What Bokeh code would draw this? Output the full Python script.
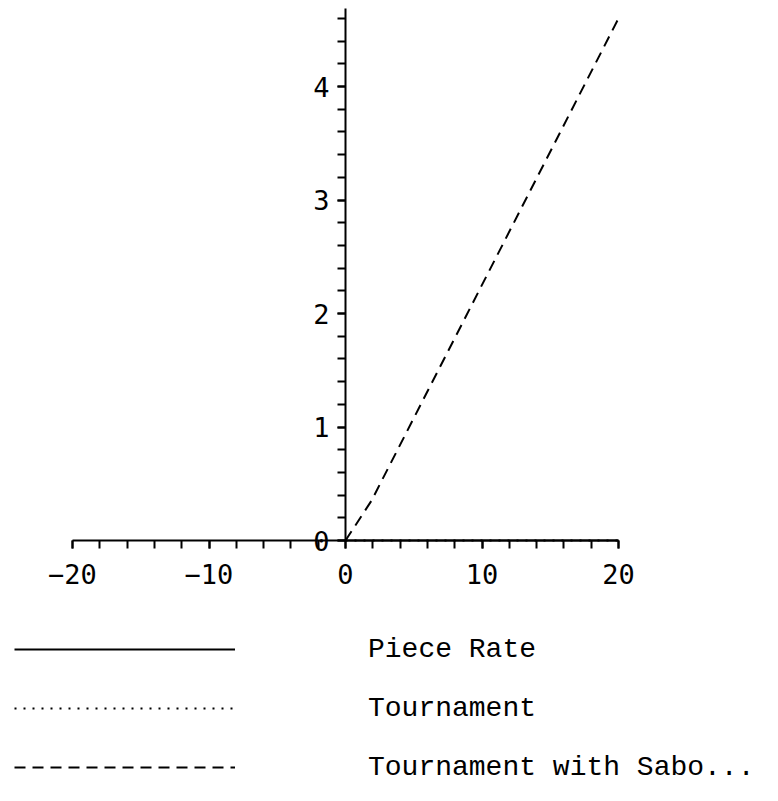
from bokeh.plotting import figure
from bokeh.models import LinearAxis, FixedTicker, Range1d, Legend, LegendItem
from bokeh.embed import file_html
from bokeh.resources import INLINE

# data
sabo_x = [0, 1.9, 20]
sabo_y = [0, 0.35, 4.6]
piece_x, piece_y = [0, 20], [0, 0]
tourn_x, tourn_y = [0, 20], [0, 0]
labels = ["Piece Rate", "Tournament", "Tournament with Sabo..."]
x_major = [-20, -10, 0, 10, 20]
x_minor = list(range(-20, 21, 2))
y_major = [0, 1, 2, 3, 4]
y_minor = [round(0.2 * i, 1) for i in range(0, 24)]

W, H = 762, 785
sx = 546 / 40.0
sy = 113.5
x_start = -20 - 72 / sx
x_end = 20 + (W - 618) / sx
y_end = 540 / sy
y_start = -(H - 540) / sy
y_top = 532 / sy

p = figure(width=W, height=H, output_backend="svg", toolbar_location=None,
           x_axis_location=None, y_axis_location=None,
           x_range=Range1d(x_start, x_end), y_range=Range1d(y_start, y_end),
           min_border=0, outline_line_color=None)
p.grid.visible = False
p.background_fill_color = "white"

tick_font = "DejaVu Sans Mono"
xa = LinearAxis(ticker=FixedTicker(ticks=x_major, minor_ticks=x_minor), fixed_location=0,
                bounds=(-20, 20))
ya = LinearAxis(ticker=FixedTicker(ticks=y_major, minor_ticks=y_minor), fixed_location=0,
                bounds=(0, y_top))
for ax in (xa, ya):
    ax.axis_line_width = 2
    ax.axis_line_color = "black"
    ax.major_tick_line_width = 2
    ax.minor_tick_line_width = 2
    ax.major_tick_in = 0
    ax.minor_tick_in = 0
    ax.major_tick_out = 8
    ax.minor_tick_out = 8
    ax.major_label_text_font = tick_font
    ax.major_label_text_font_size = "27px"
    ax.major_label_text_color = "black"
xa.major_label_standoff = 15
ya.major_label_standoff = 8
p.add_layout(xa, "below")
p.add_layout(ya, "left")

r1 = p.line(piece_x, piece_y, line_color="black", line_width=2)
r2 = p.line(tourn_x, tourn_y, line_color="black", line_width=2, line_dash="2 7")
r3 = p.line(sabo_x, sabo_y, line_color="black", line_width=2, line_dash="11 7")

legend = Legend(items=[LegendItem(label=labels[0], renderers=[r1]),
                       LegendItem(label=labels[1], renderers=[r2]),
                       LegendItem(label=labels[2], renderers=[r3])],
                location=(14, 0), orientation="vertical",
                glyph_width=221, glyph_height=36, spacing=23, label_standoff=133,
                padding=0, margin=0, border_line_color=None, background_fill_alpha=0,
                label_text_font="Liberation Mono", label_text_font_size="28px",
                label_text_color="black")
p.add_layout(legend)

open("out.html", "w").write(file_html(p, INLINE))
